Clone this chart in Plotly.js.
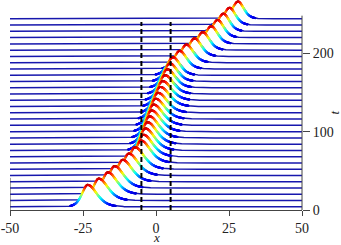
<!DOCTYPE html>
<html><head><meta charset="utf-8">
<script src="https://cdn.plot.ly/plotly-3.0.1.min.js"></script>
<style>html,body{margin:0;padding:0;background:#fff}#chart{width:341px;height:245px}</style>
</head><body><div id="chart"></div>
<script>
// ---- data ----
const tValues   = [0,8,16,24,32,40,48,56,64,72,80,88,96,104,112,120,128,136,144,152,160,168,176,184,192,200,208,216,224,232,240];
const peakX     = [-23.4,-19.6,-16.5,-14.2,-11.4,-9.3,-7.2,-5.1,-4.3,-3.6,-2.9,-2.2,-1.5,-0.8,-0.1,0.7,1.5,2.3,3.1,3.9,4.8,5.8,8.1,10.4,13.2,16.0,18.9,21.1,23.1,25.2,28.1];
const peakAmp   = [28,28,28,28,28,28,28,28.5,28,28,28,27.5,27,26.5,26,25.5,25,24.5,24,23.5,23,23,23,23,23,23,22.5,22.5,22.5,22,22];
const widthLeft = [2.6,2.6,2.6,2.6,2.6,2.6,2.6,2.6,2.6,2.6,2.6,2.6,2.6,2.6,2.6,2.6,2.6,2.6,2.6,2.6,2.6,2.6,2.6,2.6,2.6,2.6,2.6,2.6,2.6,2.6,2.6];
const widthRight= [4.2,4.2,4.2,4.2,4.2,4.2,4.2,4.2,4.2,4.2,4.2,4.2,4.2,4.2,4.2,4.2,4.2,4.0,3.8,3.6,3.4,3.2,3.2,3.2,3.1,3.0,2.9,2.8,2.7,2.7,2.6];
const baseLevel = 4;
const barrierX  = [-5, 5];
const xTickVals = [-50,-25,0,25,50];
const xTickText = ['-50','-25','0','25','50'];
const yTickVals = [0,100,200];
const yTickText = ['0','100','200'];

const jet = [[0,'#00008F'],[0.125,'#0000FF'],[0.375,'#00FFFF'],[0.625,'#FFFF00'],[0.875,'#FF0000'],[1,'#800000']];

function profile(k, x){
  const w = x < peakX[k] ? widthLeft[k] : widthRight[k];
  const c = 1/Math.cosh((x-peakX[k])/w);
  return c*c;
}

const traces = [];
for(let k = tValues.length-1; k >= 0; k--){
  const lx=[], ly=[];
  for(let i=0;i<=1000;i++){
    const x = -50 + i*0.1;
    lx.push(x); ly.push(tValues[k] + baseLevel + peakAmp[k]*profile(k,x));
  }
  traces.push({type:'scatter', mode:'lines', x:lx, y:ly, fill:'tozeroy', fillcolor:'#ffffff',
    line:{color:'#1717ad', width:1.5}, hoverinfo:'skip'});
  const mx=[], my=[], mc=[];
  for(let i=0;i<=1250;i++){
    const x = -50 + i*0.08;
    const p = profile(k,x);
    if(p > 0.04){ mx.push(x); my.push(tValues[k] + baseLevel + peakAmp[k]*p); mc.push(p); }
  }
  traces.push({type:'scatter', mode:'markers', x:mx, y:my,
    marker:{size:2.2, color:mc, colorscale:jet, cmin:-0.05, cmax:1.08, line:{width:0}},
    hoverinfo:'skip'});
}
barrierX.forEach(bx => traces.push({type:'scatter', mode:'lines', x:[bx,bx], y:[0,240],
  line:{color:'#000', width:2, dash:'5px,3px'}, hoverinfo:'skip'}));
traces.push({type:'scatter', mode:'lines', x:[-50,-50], y:[0,41], line:{color:'#444', width:1}, hoverinfo:'skip'});

const tickFont = {family:'Liberation Serif, DejaVu Serif, serif', size:14, color:'#222'};
const labelFont = {family:'Liberation Serif, serif', size:13, color:'#222'};
const layout = {
  width:341, height:245, margin:{l:10, r:39, t:0, b:35},
  paper_bgcolor:'#fff', plot_bgcolor:'rgba(0,0,0,0)', showlegend:false,
  xaxis:{range:[-50,50], tickmode:'array', tickvals:xTickVals, ticktext:xTickText, ticks:'outside', ticklen:5,
    tickcolor:'#444', showline:true, linecolor:'#444', linewidth:1, showgrid:false, zeroline:false,
    tickfont:tickFont},
  yaxis:{range:[0,268], side:'right', tickmode:'array', tickvals:yTickVals, ticktext:yTickText, ticks:'outside', ticklen:7,
    tickcolor:'#444', showline:false, showgrid:false, zeroline:false, tickfont:tickFont},
  shapes:[{type:'line', xref:'paper', yref:'y', x0:1, x1:1, y0:0, y1:248, line:{color:'#444', width:1}}],
  annotations:[
    {text:'<i>x</i>', xref:'x', yref:'paper', x:0, y:-0.131, yanchor:'middle', xanchor:'center', showarrow:false,
      borderpad:0, font:labelFont},
    {text:'<i>t</i>', xref:'paper', yref:'y', x:1.112, y:124, xanchor:'center', yanchor:'middle', textangle:-90,
      showarrow:false, borderpad:0, font:labelFont}
  ]
};
Plotly.newPlot('chart', traces, layout, {staticPlot:true, displayModeBar:false});
</script></body></html>
